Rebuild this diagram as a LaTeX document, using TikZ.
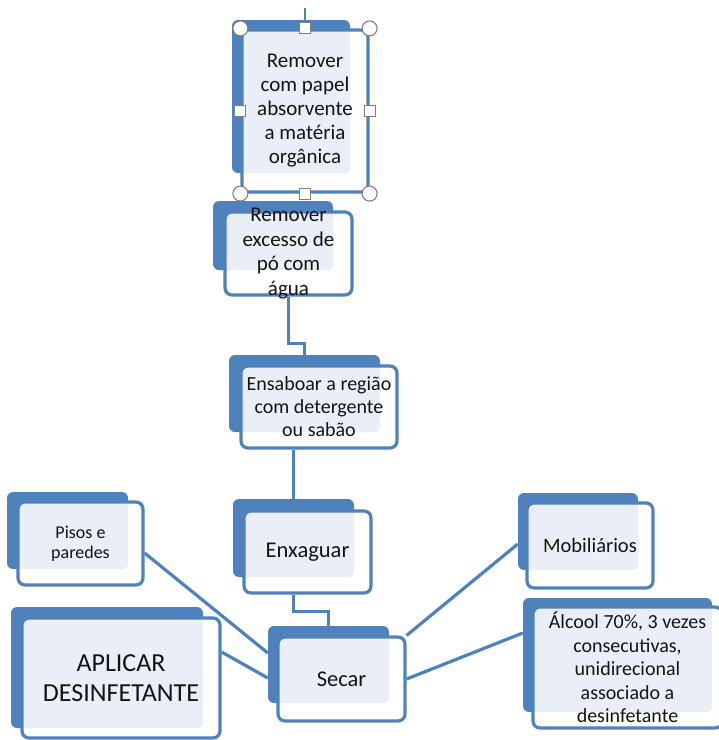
\documentclass[tikz,border=0pt]{standalone}
\usepackage{fontspec}
\setmainfont{Carlito}
\usetikzlibrary{backgrounds,calc}
\definecolor{stepblue}{HTML}{4F81BD}
\definecolor{steplight}{HTML}{EAEFF7}
\definecolor{stepink}{HTML}{141414}
\definecolor{handlegray}{HTML}{7F7F7F}
\tikzset{
  backbox/.style 2 args={fill=stepblue, rounded corners=6pt, inner sep=0pt,
    minimum width=#1, minimum height=#2},
  frontbox/.style 2 args={draw=stepblue, line width=3.2pt, fill=white,
    rounded corners=7pt, inner sep=0pt, minimum width=#1, minimum height=#2,
    align=center, text=stepink},
  lit/.style={path picture={\fill[steplight, rounded corners=6pt]
    (#1.north west) rectangle (#1.south east);}},
  steplabel/.style={align=center, text=stepink, inner sep=0pt},
  link/.style={draw=stepblue, line width=3.2pt},
  handle/.style={draw=handlegray, line width=1.1pt, fill=white},
}
\begin{document}
\begin{tikzpicture}[x=1pt, y=-1pt]
\useasboundingbox (0,0) rectangle (719,740);

\node[backbox={118}{153}] (remA-back) at (291,96.5) {};
\node[frontbox={126}{162}, lit=remA-back, font=\fontsize{21}{24}\selectfont]
  (remA) at (305,111) {Remover\\com papel\\absorvente\\a matéria\\orgânica};

\node[backbox={120}{69}] (remB-back) at (273,235.5) {};
\node[frontbox={127}{83}, lit=remB-back,
  label={[steplabel, font=\fontsize{21}{24.5}\selectfont]center:{Remover\\excesso de\\pó com\\água}}]
  (remB) at (288.5,253.5) {};

\node[backbox={151}{77}] (soap-back) at (304.5,393.5) {};
\node[frontbox={156}{82}, lit=soap-back, font=\fontsize{20}{23}\selectfont]
  (soap) at (319,407) {Ensaboar a região\\com detergente\\ou sabão};

\node[backbox={121}{78}] (rinse-back) at (293.5,538) {};
\node[frontbox={127}{82}, lit=rinse-back, font=\fontsize{22.5}{26}\selectfont]
  (rinse) at (307.5,552) {Enxaguar};

\node[backbox={121}{77}] (dry-back) at (328.5,664.5) {};
\node[frontbox={127}{84}, lit=dry-back, font=\fontsize{22.5}{26}\selectfont]
  (dry) at (341.5,679) {Secar};

\node[backbox={121}{77}] (floor-back) at (67.5,530.5) {};
\node[frontbox={125}{83}, lit=floor-back, font=\fontsize{18}{20.5}\selectfont]
  (floor) at (80.5,543.5) {Pisos e\\paredes};

\node[backbox={192}{121}] (apply-back) at (107,667.5) {};
\node[frontbox={198}{120}, lit=apply-back, font=\fontsize{26}{30}\selectfont]
  (apply) at (121,678) {APLICAR\\DESINFETANTE};

\node[backbox={120}{77}] (furn-back) at (578,531.5) {};
\node[frontbox={126}{85}, lit=furn-back, font=\fontsize{20.5}{23}\selectfont]
  (furn) at (590,545.5) {Mobiliários};

\node[backbox={189}{114}] (alc-back) at (617.5,655) {};
\node[frontbox={189}{121}, lit=alc-back, font=\fontsize{20}{23.5}\selectfont]
  (alc) at (627.5,667.5) {Álcool 70\%, 3 vezes\\consecutivas,\\unidirecional\\associado a\\desinfetante};

\begin{scope}[on background layer]
\coordinate (stub) at (305,8);
\draw[link, line width=1.6pt] (stub) -- (remA.north);
\draw[link] (remB.south) -- ++(0,47) -| (soap-back.north);
\draw[link] (soap.south -| rinse-back.north) -- (rinse-back.north);
\draw[link] (rinse-back.south |- rinse.south) -- ++(0,17) -| (dry-back.north);
\draw[link] ($(floor.east)+(0,9.5)$) -- ($(dry-back.west)+(0,-11.5)$);
\draw[link] ($(apply.east)+(0,-26)$) -- ($(dry-back.west)+(0,13.5)$);
\draw[link] (dry.north east) -- ($(furn-back.west)+(0,12.5)$);
\draw[link] (dry.east) -- ($(alc-back.west)+(0,-22)$);
\end{scope}

\foreach \c in {north west, north east, south west, south east}
  \draw[handle] (remA.\c) circle (7.5);
\foreach \s in {north, south, west, east}
  \draw[handle] ($(remA.\s)+(-5.5,-5.5)$) rectangle +(11,11);
\end{tikzpicture}
\end{document}
